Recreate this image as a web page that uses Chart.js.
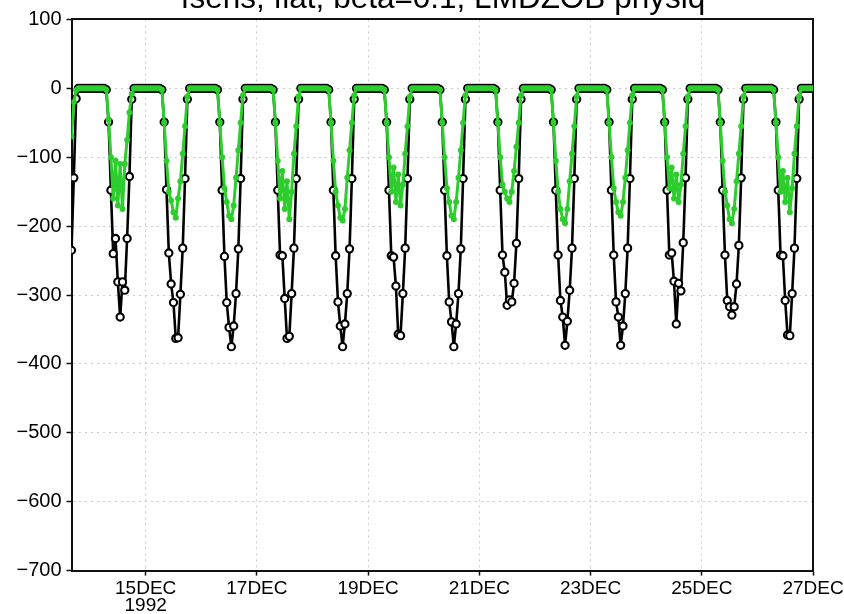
<!DOCTYPE html>
<html><head><meta charset="utf-8">
<script src="https://cdn.jsdelivr.net/npm/chart.js@4/dist/chart.umd.min.js"></script>
<style>
html,body{margin:0;padding:0;background:#fff;}
#wrap{position:relative;width:844px;height:614px;overflow:hidden;background:#fff;}
#c{position:absolute;left:0;top:-20px;width:886px;height:634px;}
</style></head><body>
<div id="wrap"><canvas id="c" width="886" height="634"></canvas></div>
<script>
// ---- data (hourly, starting 13 DEC 1992 16:00) ----
const titleText = 'fsens, flat, beta=0.1, LMDZOB physiq';
const startDay = 13;      // 13 DEC 1992
const startHour = 16;     // first sample 16:00
const endDay = 27;        // axis ends 27 DEC 00:00
const xTickDays = [15, 17, 19, 21, 23, 25, 27];
const xTickLabels = ['15DEC', '17DEC', '19DEC', '21DEC', '23DEC', '25DEC', '27DEC'];
const yearLabel = '1992';
const yTicks = [100, 0, -100, -200, -300, -400, -500, -600, -700];

const fsensBlack = [
  -235,-130,-15,0,0,0,0,0,
  0,0,0,0,0,0,0,-2,-49,-148,-240,-218,-281,-332,-281,-293,-218,-128,-16,0,0,0,0,0,
  0,0,0,0,0,0,0,-2,-49,-147,-239,-284,-311,-363,-362,-299,-232,-131,-16,0,0,0,0,0,
  0,0,0,0,0,0,0,-2,-49,-148,-244,-311,-347,-375,-345,-298,-233,-131,-16,0,0,0,0,0,
  0,0,0,0,0,0,0,-2,-49,-148,-242,-243,-305,-363,-360,-298,-232,-131,-16,0,0,0,0,0,
  0,0,0,0,0,0,0,-2,-49,-148,-243,-310,-345,-375,-342,-298,-233,-131,-16,0,0,0,0,0,
  0,0,0,0,0,0,0,-2,-49,-148,-243,-245,-287,-357,-359,-298,-232,-131,-16,0,0,0,0,0,
  0,0,0,0,0,0,0,-2,-49,-148,-243,-310,-339,-375,-342,-298,-233,-131,-16,0,0,0,0,0,
  0,0,0,0,0,0,0,-2,-49,-148,-242,-267,-315,-307,-310,-283,-225,-131,-16,0,0,0,0,0,
  0,0,0,0,0,0,0,-2,-49,-148,-242,-308,-332,-373,-338,-293,-232,-131,-16,0,0,0,0,0,
  0,0,0,0,0,0,0,-2,-49,-148,-242,-310,-332,-373,-345,-298,-232,-131,-16,0,0,0,0,0,
  0,0,0,0,0,0,0,-2,-49,-148,-242,-239,-280,-342,-283,-294,-224,-130,-16,0,0,0,0,0,
  0,0,0,0,0,0,0,-2,-49,-148,-242,-308,-317,-329,-317,-284,-228,-130,-16,0,0,0,0,0,
  0,0,0,0,0,0,0,-2,-49,-148,-242,-243,-308,-358,-359,-298,-232,-131,-16,0,0,0,0,0,
  0
];

const fsensGreen = [
  -70,-20,-3,0,0,0,0,0,
  0,0,0,0,0,0,0,-2,-45,-100,-160,-105,-170,-110,-175,-110,-75,-35,-8,0,0,0,0,0,
  0,0,0,0,0,0,0,-2,-50,-105,-150,-163,-180,-188,-160,-135,-95,-55,-12,0,0,0,0,0,
  0,0,0,0,0,0,0,-2,-50,-100,-145,-165,-185,-190,-170,-130,-90,-50,-10,0,0,0,0,0,
  0,0,0,0,0,0,0,-2,-50,-105,-160,-120,-175,-135,-190,-150,-95,-55,-12,0,0,0,0,0,
  0,0,0,0,0,0,0,-2,-50,-105,-150,-170,-188,-192,-175,-130,-90,-50,-10,0,0,0,0,0,
  0,0,0,0,0,0,0,-2,-50,-100,-150,-115,-165,-125,-170,-140,-95,-55,-12,0,0,0,0,0,
  0,0,0,0,0,0,0,-2,-50,-100,-145,-165,-185,-190,-165,-130,-90,-50,-10,0,0,0,0,0,
  0,0,0,0,0,0,0,-2,-50,-100,-140,-150,-160,-165,-150,-120,-85,-50,-10,0,0,0,0,0,
  0,0,0,0,0,0,0,-2,-50,-105,-150,-175,-190,-196,-175,-135,-95,-55,-12,0,0,0,0,0,
  0,0,0,0,0,0,0,-2,-50,-100,-145,-165,-180,-185,-165,-130,-90,-50,-10,0,0,0,0,0,
  0,0,0,0,0,0,0,-2,-50,-100,-145,-115,-160,-125,-165,-140,-95,-55,-12,0,0,0,0,0,
  0,0,0,0,0,0,0,-2,-50,-105,-150,-170,-190,-196,-175,-135,-95,-55,-12,0,0,0,0,0,
  0,0,0,0,0,0,0,-2,-50,-100,-150,-120,-165,-130,-180,-145,-95,-55,-12,0,0,0,0,0,
  0
];

// sample times in days of December (hourly)
const t0 = startDay + startHour / 24;
const times = fsensBlack.map((_, i) => t0 + i / 24);
const toXY = arr => arr.map((v, i) => ({x: times[i], y: v}));

const labelFont = {family: "'Liberation Sans', Arial, sans-serif", size: 20};
const xFont = {family: "'Liberation Sans', Arial, sans-serif", size: 19, lineHeight: 0.88};
const gridCol = '#cccccc';
const axisCol = '#111';
const green = 'rgb(45,205,45)';

new Chart(document.getElementById('c'), {
  type: 'line',
  data: {
    datasets: [
      {
        label: 'green', data: toXY(fsensGreen),
        borderColor: green, backgroundColor: green,
        borderWidth: 3, pointRadius: 3, pointBorderWidth: 0,
        pointBackgroundColor: green, tension: 0,
        borderJoinStyle: 'round', borderCapStyle: 'round'
      },
      {
        label: 'black', data: toXY(fsensBlack),
        borderColor: '#000', backgroundColor: '#fff',
        borderWidth: 2.6, pointRadius: 3.6, pointBorderWidth: 2.1,
        pointBorderColor: '#000', pointBackgroundColor: '#fff', tension: 0,
        borderJoinStyle: 'round', borderCapStyle: 'round'
      }
    ]
  },
  options: {
    responsive: false, animation: false, devicePixelRatio: 1,
    layout: {padding: 0},
    plugins: {
      legend: {display: false}, tooltip: {enabled: false},
      title: {
        display: true, text: titleText, color: '#000',
        font: {family: "'Liberation Sans', Arial, sans-serif", size: 31.5, weight: 'normal', lineHeight: 1.2},
        padding: {top: 0, bottom: 1.6}
      }
    },
    scales: {
      x: {
        type: 'linear', position: 'bottom', min: t0, max: endDay,
        afterBuildTicks: s => { s.ticks = xTickDays.map(v => ({value: v})); },
        afterFit: s => { s.height = 43.4; },
        ticks: {
          color: '#000', font: xFont, padding: 5, maxRotation: 0, autoSkip: false,
          callback: v => {
            const i = xTickDays.indexOf(v);
            const lab = i >= 0 ? xTickLabels[i] : '';
            return i === 0 ? [lab, yearLabel] : lab;
          }
        },
        grid: {color: gridCol, lineWidth: 1, tickLength: 5, tickColor: axisCol, tickWidth: 1.5, tickBorderDash: []},
        border: {display: true, color: axisCol, width: 2, dash: [2, 4]}
      },
      x2: {
        type: 'linear', position: 'top', min: t0, max: endDay,
        afterFit: s => { s.height = 0; },
        ticks: {display: false}, grid: {display: false, drawTicks: false},
        border: {display: true, color: axisCol, width: 2}
      },
      y: {
        type: 'linear', position: 'left', min: -700, max: 100,
        afterBuildTicks: s => { s.ticks = yTicks.map(v => ({value: v})); },
        afterFit: s => { s.width = 71.5; },
        ticks: {
          color: '#000', font: labelFont, padding: 5,
          callback: v => (v < 0 ? '\u2212' + Math.abs(v) : String(v))
        },
        grid: {color: gridCol, lineWidth: 1, tickLength: 5, tickColor: axisCol, tickWidth: 1.5, tickBorderDash: []},
        border: {display: true, color: axisCol, width: 2, dash: [2, 4]}
      },
      y2: {
        type: 'linear', position: 'right', min: -700, max: 100,
        afterFit: s => { s.width = 73; },
        ticks: {display: false}, grid: {display: false, drawTicks: false},
        border: {display: true, color: axisCol, width: 2}
      }
    }
  }
});
</script>
</body></html>
